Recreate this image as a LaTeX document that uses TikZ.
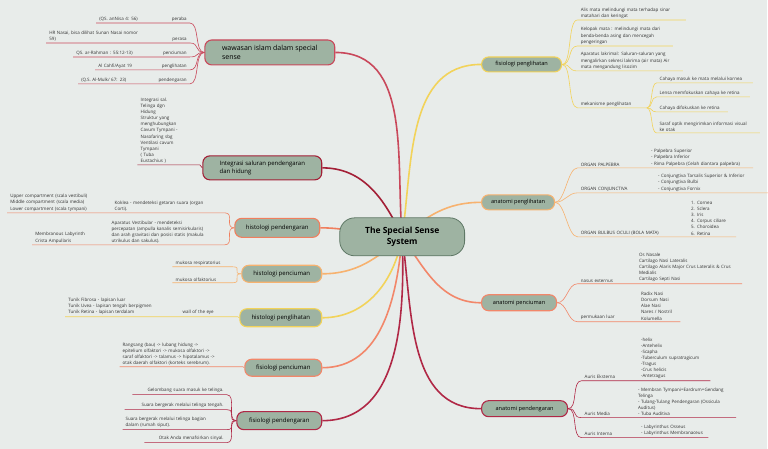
\documentclass[tikz,border=0pt]{standalone}
\usepackage{fontspec}
\setmainfont{Open Sans}
\usetikzlibrary{positioning, backgrounds}

\definecolor{bgc}{RGB}{232,236,234}
\definecolor{nodefill}{RGB}{158,179,162}
\definecolor{ctrline}{RGB}{95,120,102}
\definecolor{cred}{RGB}{201,72,91}
\definecolor{cdark}{RGB}{163,31,54}
\definecolor{corange}{RGB}{240,127,94}
\definecolor{clorange}{RGB}{247,178,111}
\definecolor{cyellow}{RGB}{242,211,90}
\definecolor{csalmon}{RGB}{242,135,106}
\definecolor{ccrimson}{RGB}{176,40,70}
\definecolor{txt}{RGB}{50,50,50}

\begin{document}
\begin{tikzpicture}[x=1pt, y=-1pt,
    topic/.style={rectangle, rounded corners=7pt, fill=nodefill, draw=#1, line width=1.1pt, inner sep=0pt, align=center, font=\fontsize{5.6}{6.8}\selectfont, text=black},
    lefttopic/.style={topic=#1, font=\fontsize{6}{7.4}\selectfont},
    leaf/.style={inner xsep=3pt, inner ysep=1.5pt, align=left, font=\fontsize{4.5}{6.1}\selectfont, text=txt},
    mainline/.style={draw=#1, line width=1.6pt},
    subline/.style={draw=#1, line width=0.6pt}
]
    % center
    \node[topic=ctrline, rounded corners=15pt, line width=0.8pt, minimum width=125pt, minimum height=38pt, font=\fontsize{8.5}{11}\selectfont\bfseries] (sss) at (402.5,237) {The Special Sense\\System};

    % left topics
    \node[lefttopic=cred, minimum width=130pt, minimum height=25pt, font=\fontsize{7}{8.5}\selectfont, align=left] (wwi) at (270,52.5) {wawasan islam dalam special\\sense};
    \node[lefttopic=cdark, minimum width=119pt, minimum height=24pt, align=left] (isp) at (262.5,168) {Integrasi saluran pendengaran\\dan hidung};
    \node[lefttopic=corange, minimum width=85pt, minimum height=19pt] (hpd) at (277.5,228) {histologi pendengaran};
    \node[lefttopic=clorange, minimum width=80pt, minimum height=17pt] (hpc) at (282,274) {histologi penciuman};
    \node[lefttopic=cyellow, minimum width=82pt, minimum height=18pt] (hpl) at (281,318) {histologi penglihatan};
    \node[lefttopic=csalmon, minimum width=77pt, minimum height=17pt] (fpc) at (283.5,368) {fisiologi penciuman};
    \node[lefttopic=ccrimson, minimum width=85pt, minimum height=18pt] (fpd) at (279.5,421) {fisiologi pendengaran};

    % right topics
    \node[topic=cyellow, minimum width=80pt, minimum height=15pt] (fpl) at (522,64.5) {fisiologi penglihatan};
    \node[topic=clorange, minimum width=73pt, minimum height=15pt] (apl) at (518.5,202.5) {anatomi penglihatan};
    \node[topic=csalmon, minimum width=75pt, minimum height=16pt] (apc) at (519.5,303) {anatomi penciuman};
    \node[topic=ccrimson, minimum width=86pt, minimum height=16pt] (apd) at (525,409) {anatomi pendengaran};

    % fisiologi penglihatan
    \node[leaf, anchor=south west, text width=102pt] (fpl1) at (578,20) {Alis mata melindungi mata terhadap sinar\\matahari dan keringat};
    \node[leaf, anchor=south west, text width=89pt] (fpl2) at (578,46) {Kelopak mata : melindungi mata dari\\benda-benda asing dan mencegah\\pengeringan};
    \node[leaf, anchor=south west, text width=99pt] (fpl3) at (578,71) {Aparatus lakrimal: Saluran-saluran yang\\mengalirkan sekresi lakrima (air mata) Air\\mata mengandung lisozim};
    \node[leaf, anchor=south west, text width=63pt] (fpl4) at (578,108) {mekanisme penglihatan};
    \node[leaf, anchor=south west, text width=90pt] (fm1) at (657,83) {Cahaya masuk ke mata melalui kornea};
    \node[leaf, anchor=south west, text width=87pt] (fm2) at (657,97) {Lensa memfokuskan cahaya ke retina};
    \node[leaf, anchor=south west, text width=65pt] (fm3) at (657,112) {Cahaya difokuskan ke retina};
    \node[leaf, anchor=south west, text width=97pt] (fm4) at (657,133) {Saraf optik mengirimkan informasi visual\\ke otak};

    % anatomi penglihatan
    \node[leaf, anchor=south west, text width=64pt] (apl1) at (578,168) {ORGAN PALPEBRA};
    \node[leaf, anchor=south west, text width=99pt] (apl1a) at (apl1.south east) {- Palpebra Superior\\- Palpebra Inferior\\- Rima Palpebra (Celah diantara palpebra)};
    \node[leaf, anchor=south west, text width=71pt] (apl2) at (578,193) {ORGAN CONJUNCTIVA};
    \node[leaf, anchor=south west, text width=107pt] (apl2a) at (apl2.south east) {- Conjungtiva Tarsalis Superior \& Inferior\\- Conjungtiva Bulbi\\- Conjungtiva Fornix};
    \node[leaf, anchor=south west, text width=104pt] (apl3) at (578,237) {ORGAN BULBUS OCULI (BOLA MATA)};
    \node[leaf, anchor=south west, text width=42pt] (apl3a) at (apl3.south east) {1. Cornea\\2. Sclera\\3. Iris\\4. Corpus ciliare\\5. Choroidea\\6. Retina};

    % anatomi penciuman
    \node[leaf, anchor=south west, text width=52pt] (apc1) at (578,284) {nasus externus};
    \node[leaf, anchor=south west, text width=100pt] (apc1a) at (apc1.south east) {Os Nasale\\Cartilago Nasi Lateralis\\Cartilago Alaris Major Crus Lateralis \& Crus\\Medialis\\Cartilago Septi Nasi};
    \node[leaf, anchor=south west, text width=54pt] (apc2) at (578,322) {permukaan luar};
    \node[leaf, anchor=south west, text width=36pt] (apc2a) at (apc2.south east) {Radix Nasi\\Dorsum Nasi\\Alae Nasi\\Nares / Nostril\\Kolumella};

    % anatomi pendengaran
    \node[leaf, anchor=south west, text width=50pt] (apd1) at (582,381) {Auris Eksterna};
    \node[leaf, anchor=south west, text width=66pt] (apd1a) at (apd1.south east) {-helix\\-Antehelix\\-Scapha\\-Tuberculum supratragicum\\-Tragus\\-Crus helicis\\ -Antetragus};
    \node[leaf, anchor=south west, text width=47pt] (apd2) at (582,418) {Auris Media};
    \node[leaf, anchor=south west, text width=95pt] (apd2a) at (apd2.south east) {- Membran Tympani=Eardrum=Gendang\\Telinga\\- Tulang-Tulang Pendengaran (Ossicula\\Auditus)\\- Tuba Auditiva};
    \node[leaf, anchor=south west, text width=50pt] (apd3) at (582,438) {Auris Interna};
    \node[leaf, anchor=south west, text width=64pt] (apd3a) at (apd3.south east) {- Labyrinthus Osseus\\- Labyrinthus Membranaceus};

    % wawasan islam
    \node[leaf, anchor=south east, text width=24pt, align=right] (ww1) at (190,23) {peraba};
    \node[leaf, anchor=south east, text width=57pt] (ww1a) at (ww1.south west) {(QS. anNisa 4: 56)};
    \node[leaf, anchor=south east, text width=24pt, align=right] (ww2) at (190,43) {perasa};
    \node[leaf, anchor=south east, text width=107pt] (ww2a) at (ww2.south west) {HR Nasai, bisa dilihat Sunan Nasai nomor\\59)};
    \node[leaf, anchor=south east, text width=34pt, align=right] (ww3) at (190,57) {penciuman};
    \node[leaf, anchor=south east, text width=70pt] (ww3a) at (ww3.south west) {QS. ar-Rahman : 55:12-13)};
    \node[leaf, anchor=south east, text width=34pt, align=right] (ww4) at (190,70) {penglihatan};
    \node[leaf, anchor=south east, text width=48pt] (ww4a) at (ww4.south west) {Al Cahfi/Ayat 19};
    \node[leaf, anchor=south east, text width=36pt, align=right] (ww5) at (190,84) {pendengaran};
    \node[leaf, anchor=south east, text width=63pt] (ww5a) at (ww5.south west) {(Q.S. Al-Mulk/ 67: 23)};

    % integrasi
    \node[leaf, anchor=south east, text width=56pt] (isp1) at (200,165) {Integrasi sal.\\Telinga dgn\\Hidung\\Struktur yang\\menghubungkan\\Cavum Tympani -\\Nasofaring sbg\\Ventilasi cavum\\Tympani\\( Tuba\\Eustachius )};

    % histologi pendengaran
    \node[leaf, anchor=south east, text width=107pt] (hpd1) at (225,213) {Koklea - mendeteksi getaran suara (organ\\Corti).};
    \node[leaf, anchor=south east, text width=98pt] (hpd1a) at (hpd1.south west) {Upper compartment (scala vestibuli)\\Middle compartment (scala media)\\Lower compartment (scala tympani)};
    \node[leaf, anchor=south east, text width=110pt] (hpd2) at (225,245) {Aparatus Vestibular - mendeteksi\\percepatan (ampulla kanalis semisirkularis)\\dan arah gravitasi dan posisi statis (makula\\utrikulus dan sakulus).};
    \node[leaf, anchor=south east, text width=70pt] (hpd2a) at (hpd2.south west) {Membranous Labyrinth\\Crista Ampullaris};

    % histologi penciuman
    \node[leaf, anchor=south east, text width=54pt] (hpc1) at (233,267) {mukosa respiratorius};
    \node[leaf, anchor=south east, text width=54pt] (hpc2) at (233,283) {mukosa olfaktorius};

    % histologi penglihatan
    \node[leaf, anchor=south east, text width=52pt] (hpl1) at (238,317) {wall of the eye};
    \node[leaf, anchor=south east, text width=108pt] (hpl1a) at (hpl1.south west) {Tunik Fibrosa - lapisan luar\\Tunik Uvea - lapisan tengah berpigmen\\Tunik Retina - lapisan terdalam};

    % fisiologi penciuman
    \node[leaf, anchor=south east, text width=117pt] (fpc1) at (243,367) {Rangsang (bau) -> lubang hidung ->\\epitelium olfaktori -> mukosa olfaktori ->\\saraf olfaktori -> talamus -> hipotalamus ->\\otak daerah olfaktori (korteks serebrum).};

    % fisiologi pendengaran
    \node[leaf, anchor=south east, text width=88pt, align=right] (fpd1) at (227,395) {Gelombang suara masuk ke telinga.};
    \node[leaf, anchor=south east, text width=96pt, align=right] (fpd2) at (227,410) {Suara bergerak melalui telinga tengah.};
    \node[leaf, anchor=south east, text width=98pt] (fpd3) at (227,430) {Suara bergerak melalui telinga bagian\\dalam (rumah siput).};
    \node[leaf, anchor=south east, text width=76pt, align=right] (fpd4) at (227,443) {Otak Anda menafsirkan sinyal.};

    \begin{scope}[on background layer]
        \fill[bgc] (0,0) rectangle (768,449);
        \useasboundingbox (0,0) rectangle (768,449);

        % main branches
        \draw[mainline=cred] (sss.center) to[out=95,in=0] (wwi.east);
        \draw[mainline=cdark] (sss.center) to[out=115,in=0] (isp.east);
        \draw[mainline=corange] (sss.center) to[out=180,in=0] (hpd.east);
        \draw[mainline=clorange] (sss.center) to[out=-140,in=0] (hpc.east);
        \draw[mainline=cyellow] (sss.center) to[out=-100,in=0] (hpl.east);
        \draw[mainline=csalmon] (sss.center) to[out=-95,in=0] (fpc.east);
        \draw[mainline=ccrimson] (sss.center) to[out=-88,in=0] (fpd.east);
        \draw[mainline=cyellow] (sss.center) to[out=82,in=180] (fpl.west);
        \draw[mainline=clorange] (sss.center) to[out=40,in=180] (apl.west);
        \draw[mainline=csalmon] (sss.center) to[out=-55,in=180] (apc.west);
        \draw[mainline=ccrimson] (sss.center) to[out=-82,in=180] (apd.west);

        % right leaves
        \foreach \l in {fpl1,fpl2,fpl3,fpl4}
            \draw[subline=cyellow] (fpl.east) .. controls +(10,0) and +(-10,0) .. (\l.south west) -- (\l.south east);
        \foreach \l in {fm1,fm2,fm3,fm4}
            \draw[subline=cyellow] (fpl4.south east) .. controls +(6,0) and +(-6,0) .. (\l.south west) -- (\l.south east);
        \foreach \l in {apl1,apl2,apl3}
            \draw[subline=clorange] (apl.east) .. controls +(10,0) and +(-10,0) .. (\l.south west) -- (\l a.south east);
        \foreach \l in {apc1,apc2}
            \draw[subline=csalmon] (apc.east) .. controls +(10,0) and +(-10,0) .. (\l.south west) -- (\l a.south east);
        \foreach \l in {apd1,apd2,apd3}
            \draw[subline=ccrimson] (apd.east) .. controls +(10,0) and +(-10,0) .. (\l.south west) -- (\l a.south east);

        % left leaves
        \foreach \l in {ww1,ww2,ww3,ww4,ww5}
            \draw[subline=cred] (wwi.west) .. controls +(-10,0) and +(10,0) .. (\l.south east) -- (\l a.south west);
        \draw[subline=cdark] (isp.west) .. controls +(-2,0) and +(2,0) .. (isp1.south east) -- (isp1.south west);
        \foreach \l in {hpd1,hpd2}
            \draw[subline=corange] (hpd.west) .. controls +(-10,0) and +(10,0) .. (\l.south east) -- (\l a.south west);
        \foreach \l in {hpc1,hpc2}
            \draw[subline=clorange] (hpc.west) .. controls +(-10,0) and +(10,0) .. (\l.south east) -- (\l.south west);
        \draw[subline=cyellow] (hpl.west) .. controls +(-2,0) and +(2,0) .. (hpl1.south east) -- (hpl1a.south west);
        \draw[subline=csalmon] (fpc.west) .. controls +(-2,0) and +(2,0) .. (fpc1.south east) -- (fpc1.south west);
        \foreach \l in {fpd1,fpd2,fpd3,fpd4}
            \draw[subline=ccrimson] (fpd.west) .. controls +(-10,0) and +(10,0) .. (\l.south east) -- (\l.south west);
    \end{scope}
\end{tikzpicture}
\end{document}
